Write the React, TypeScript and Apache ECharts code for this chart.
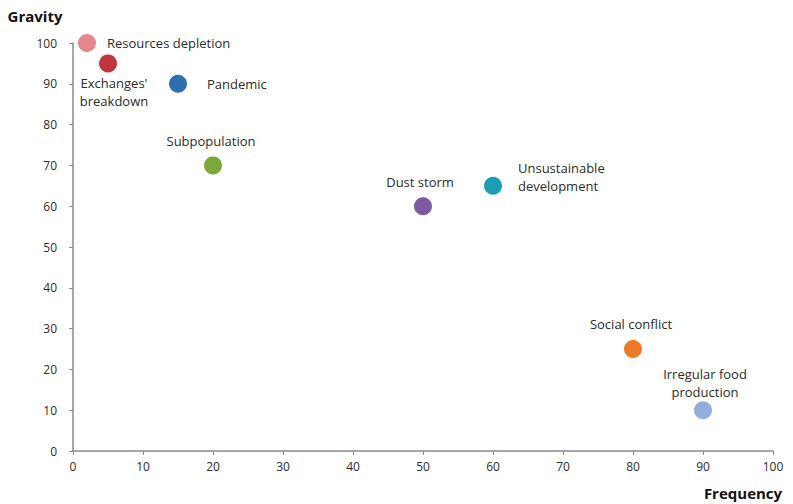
import React, { useEffect, useRef } from "react";
import * as echarts from "echarts";

// Risk matrix: how often each threat occurs vs. how severe it is
const riskNames = [
  "Resources depletion",
  "Exchanges'\nbreakdown",
  "Pandemic",
  "Subpopulation",
  "Dust storm",
  "Unsustainable\ndevelopment",
  "Social conflict",
  "Irregular food\nproduction",
];
const frequency = [2, 5, 15, 20, 50, 60, 80, 90];
const gravity = [100, 95, 90, 70, 60, 65, 25, 10];

const pointColors = [
  "#E5878C",
  "#C0363C",
  "#2F6EB0",
  "#7BA83A",
  "#7B5AA3",
  "#1B9EB3",
  "#EC7A27",
  "#92AEDC",
];

// label placement for each point
const labelPlacement: any[] = [
  { position: "right", distance: 11, offset: [0, 0], align: "left" },
  { position: "bottom", distance: 2, offset: [6, 0], align: "center" },
  { position: "right", distance: 20, offset: [0, 0], align: "left" },
  { position: "top", distance: 6, offset: [-2, 0], align: "center" },
  { position: "top", distance: 6, offset: [-3, 0], align: "center" },
  { position: "right", distance: 16, offset: [0, -9], align: "left" },
  { position: "top", distance: 7, offset: [-2, 0], align: "center" },
  { position: "top", distance: 0, offset: [2, 0], align: "center" },
];

const FONT = "'Open Sans', Lato, sans-serif";
const TEXT = "#2b2b2b";

export default function App() {
  const ref = useRef<HTMLDivElement>(null);

  useEffect(() => {
    if (!ref.current) return;
    document.body.style.margin = "0";
    const chart = echarts.init(ref.current, undefined, { renderer: "svg" });

    const data = riskNames.map((name, i) => ({
      name,
      value: [frequency[i], gravity[i]],
      itemStyle: { color: pointColors[i], opacity: 1 },
      label: {
        show: true,
        formatter: name,
        position: labelPlacement[i].position,
        distance: labelPlacement[i].distance,
        offset: labelPlacement[i].offset,
        align: labelPlacement[i].align,
        color: TEXT,
        fontSize: 13,
        lineHeight: 18,
        fontFamily: FONT,
      },
    }));

    const axisCommon = {
      min: 0,
      max: 100,
      interval: 10,
      splitLine: { show: false },
      axisLine: { show: true, lineStyle: { color: "#8a8a8a", width: 1.5 } },
      axisTick: {
        show: true,
        inside: false,
        length: 4,
        lineStyle: { color: "#8a8a8a", width: 1 },
      },
      axisLabel: { color: TEXT, fontSize: 12, fontFamily: FONT },
    };

    const titleStyle = {
      fill: "#111111",
      fontFamily: FONT,
      fontSize: 15,
      fontWeight: "bold",
      verticalAlign: "middle",
    };

    chart.setOption({
      animation: false,
      backgroundColor: "#ffffff",
      grid: { left: 73, right: 20, top: 43, bottom: 53, containLabel: false },
      xAxis: {
        type: "value",
        ...axisCommon,
        axisLabel: { ...axisCommon.axisLabel, margin: 9 },
      },
      yAxis: {
        type: "value",
        ...axisCommon,
        axisLabel: { ...axisCommon.axisLabel, margin: 16 },
      },
      graphic: [
        {
          type: "text",
          x: 35,
          y: 16,
          style: { text: "Gravity", align: "center", ...titleStyle },
        },
        {
          type: "text",
          x: 743,
          y: 493,
          style: { text: "Frequency", align: "center", ...titleStyle },
        },
      ],
      series: [
        {
          type: "scatter",
          symbol: "circle",
          symbolSize: 18,
          data,
          emphasis: { disabled: true },
        },
      ],
    });

    return () => chart.dispose();
  }, []);

  return <div ref={ref} style={{ width: 793, height: 504 }} />;
}
